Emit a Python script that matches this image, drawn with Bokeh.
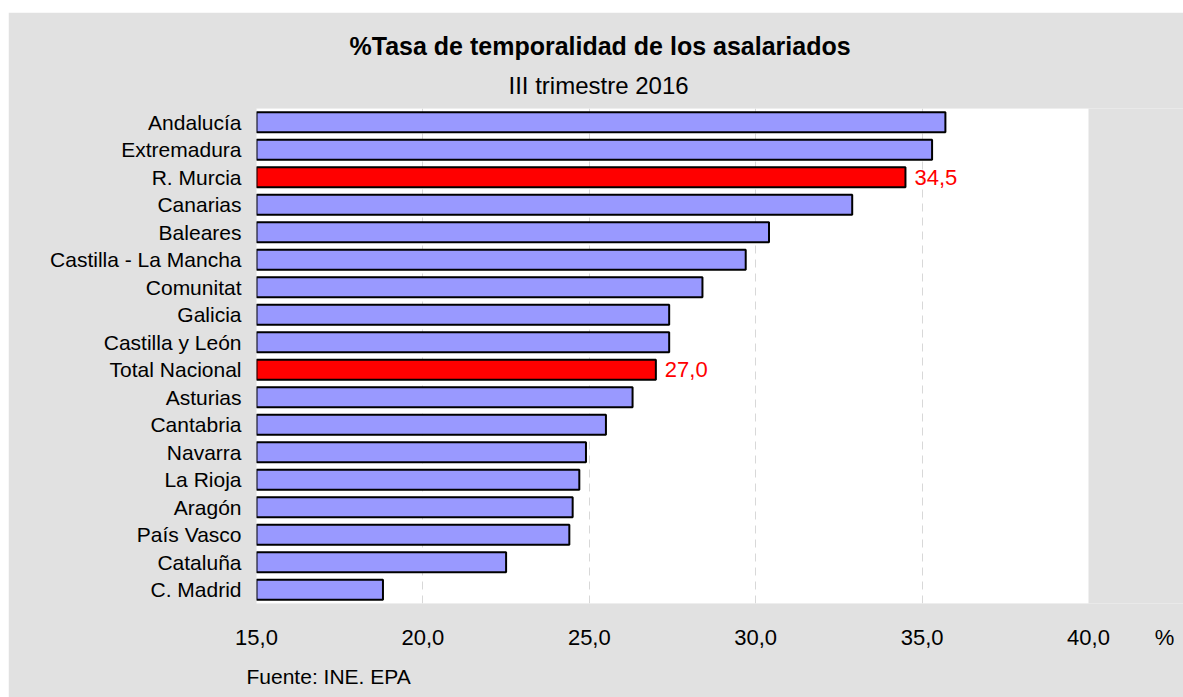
from bokeh.plotting import figure
from bokeh.layouts import row, column
from bokeh.models import (ColumnDataSource, Range1d, FixedTicker, Title, Spacer)
from bokeh.core.properties import value
from bokeh.embed import file_html
from bokeh.resources import INLINE

# ---- data ----
regions = ["Andalucía", "Extremadura", "R. Murcia", "Canarias", "Baleares",
           "Castilla - La Mancha", "Comunitat", "Galicia", "Castilla y León",
           "Total Nacional", "Asturias", "Cantabria", "Navarra", "La Rioja",
           "Aragón", "País Vasco", "Cataluña", "C. Madrid"]
rates = [35.7, 35.3, 34.5, 32.9, 30.4, 29.7, 28.4, 27.4, 27.4,
         27.0, 26.3, 25.5, 24.9, 24.7, 24.5, 24.4, 22.5, 18.8]
highlighted = ["R. Murcia", "Total Nacional"]
x_ticks = [15, 20, 25, 30, 35, 40]
x_tick_labels = ["15,0", "20,0", "25,0", "30,0", "35,0", "40,0"]
title_text = "%Tasa de temporalidad de los asalariados"
subtitle_text = "III trimestre 2016"
unit_text = "%"
source_text = "Fuente: INE. EPA"

FONT = "Liberation Sans"
BG = "#e1e1e1"
BAR = "#9999ff"
HL = "#ff0000"

# layout constants (pixels)
FIG_W, FIG_H = 1175, 685
LEFT, TOP, BOTTOM = 248, 96, 94
AXIS_PX = 832                      # pixel width of the 15..40 value span
frame_w = FIG_W - LEFT
x_min, x_max = x_ticks[0], x_ticks[-1]
x_end = x_min + (x_max - x_min) * frame_w / AXIS_PX
unit_pos = x_min + (x_max - x_min) * 908 / AXIS_PX   # where the "%" sign sits

n = len(regions)
slots = [n - i - 0.5 for i in range(n)]          # category slots, first on top
colors = [HL if r in highlighted else BAR for r in regions]
src = ColumnDataSource(dict(slot=slots, region=regions, rate=rates, color=colors))

hl_idx = [i for i, r in enumerate(regions) if r in highlighted]
lab_src = ColumnDataSource(dict(
    slot=[slots[i] for i in hl_idx],
    rate=[rates[i] for i in hl_idx],
    label=[f"{rates[i]:.1f}".replace(".", ",") for i in hl_idx],
))

p = figure(width=FIG_W, height=FIG_H,
           x_range=Range1d(x_min, x_end),
           y_range=Range1d(0, n),
           output_backend="svg", toolbar_location=None,
           min_border_left=LEFT, min_border_right=0,
           min_border_top=TOP, min_border_bottom=BOTTOM)

p.background_fill_color = BG
p.border_fill_color = BG
p.outline_line_color = None

# white plotting area (15..40)
p.quad(left=x_min, right=x_max, bottom=0, top=n, fill_color="white",
       line_color=None, level="image")

p.hbar(y="slot", left=x_min, right="rate", height=0.73, source=src,
       fill_color="color", line_color="black", line_width=2)

p.text(x="rate", y="slot", text="label", source=lab_src,
       x_offset=9, text_align="left", text_baseline="middle",
       text_color=HL, text_font=value(FONT), text_font_size="22px")

# axes
p.xaxis.ticker = FixedTicker(ticks=x_ticks + [unit_pos])
overrides = {t: l for t, l in zip(x_ticks, x_tick_labels)}
overrides[unit_pos] = unit_text
p.xaxis.major_label_overrides = overrides
p.yaxis.ticker = FixedTicker(ticks=slots)
p.yaxis.major_label_overrides = {s: r for s, r in zip(slots, regions)}
for ax in (p.xaxis[0], p.yaxis[0]):
    ax.axis_line_color = None
    ax.major_tick_line_color = None
    ax.minor_tick_line_color = None
    ax.major_tick_out = 0
    ax.major_tick_in = 0
    ax.major_label_text_font = FONT
    ax.major_label_text_color = "black"
p.xaxis.major_label_text_font_size = "22px"
p.yaxis.major_label_text_font_size = "21px"
p.xaxis.major_label_standoff = 21
p.yaxis.major_label_standoff = 15

p.ygrid.grid_line_color = None
p.xgrid.ticker = FixedTicker(ticks=x_ticks[1:-1])
p.xgrid.grid_line_color = "#d8d8d8"
p.xgrid.grid_line_dash = "8 6"
p.xgrid.grid_line_width = 1

# titles
p.add_layout(Title(text=subtitle_text, align="left", offset=252, standoff=20,
                   text_font=FONT, text_font_size="24px",
                   text_font_style="normal", text_color="black"), "above")
p.add_layout(Title(text=title_text, align="left", offset=93, standoff=0,
                   text_font=FONT, text_font_size="25px",
                   text_font_style="bold", text_color="black"), "above")

# source note
p.add_layout(Title(text=source_text, align="left", offset=-10, standoff=20,
                   text_font=FONT, text_font_size="21px",
                   text_font_style="normal", text_color="black"), "below")

layout = row(Spacer(width=8), column(Spacer(height=12), p))
open("out.html", "w").write(file_html(layout, INLINE))
